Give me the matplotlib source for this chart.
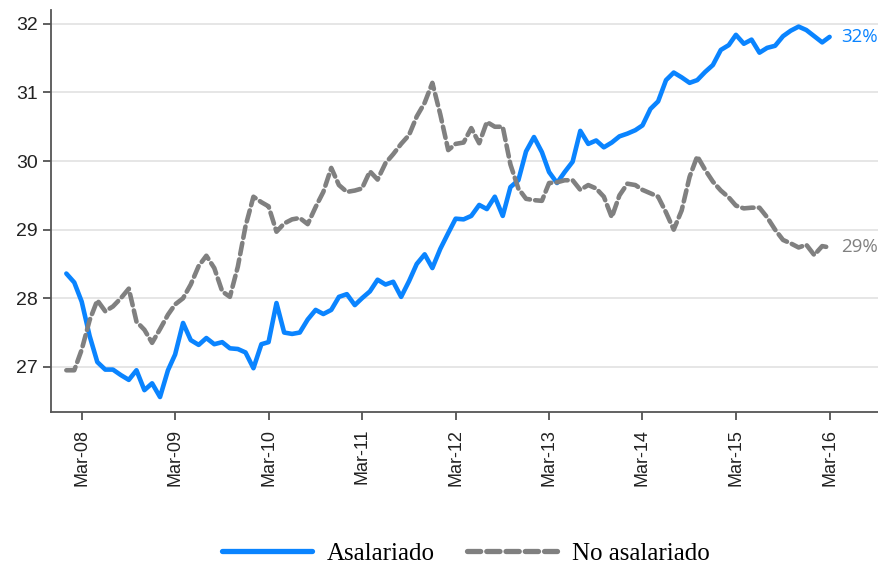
import numpy as np
import pandas as pd
import matplotlib
matplotlib.use("Agg")
import matplotlib.pyplot as plt
import matplotlib.dates as mdates

# monthly series, Jan-08 .. Mar-16
months = pd.date_range("2008-01-01", periods=99, freq="MS")

asalariado = [
    28.36, 28.23, 27.95, 27.45, 27.07, 26.96, 26.96, 26.88, 26.81, 26.95,
    26.66, 26.76, 26.56, 26.95, 27.18, 27.64, 27.39, 27.32, 27.42, 27.33,
    27.36, 27.27, 27.26, 27.21, 26.98, 27.33, 27.36, 27.93, 27.50, 27.48,
    27.50, 27.69, 27.83, 27.77, 27.83, 28.02, 28.06, 27.90, 28.00, 28.10,
    28.27, 28.20, 28.24, 28.02, 28.25, 28.50, 28.64, 28.44, 28.72, 28.95,
    29.16, 29.15, 29.20, 29.36, 29.30, 29.48, 29.20, 29.62, 29.72, 30.14,
    30.35, 30.13, 29.84, 29.68, 29.84, 29.99, 30.44, 30.25, 30.30, 30.20,
    30.27, 30.36, 30.40, 30.45, 30.52, 30.76, 30.87, 31.18, 31.29, 31.22,
    31.14, 31.18, 31.30, 31.40, 31.62, 31.69, 31.84, 31.71, 31.77, 31.58,
    31.65, 31.68, 31.82, 31.90, 31.96, 31.91, 31.82, 31.73, 31.81,
]

no_asalariado = [
    26.95, 26.95, 27.25, 27.68, 27.97, 27.81, 27.88, 28.00, 28.14, 27.66,
    27.54, 27.35, 27.55, 27.76, 27.91, 28.00, 28.20, 28.47, 28.62, 28.44,
    28.10, 28.02, 28.46, 29.05, 29.48, 29.40, 29.34, 28.97, 29.09, 29.15,
    29.17, 29.08, 29.33, 29.55, 29.90, 29.65, 29.55, 29.57, 29.60, 29.85,
    29.73, 29.97, 30.10, 30.25, 30.38, 30.65, 30.85, 31.14, 30.68, 30.16,
    30.25, 30.27, 30.48, 30.26, 30.57, 30.50, 30.50, 29.95, 29.60, 29.45,
    29.43, 29.42, 29.68, 29.69, 29.72, 29.72, 29.58, 29.65, 29.60, 29.48,
    29.18, 29.50, 29.67, 29.65, 29.58, 29.53, 29.48, 29.25, 29.00, 29.28,
    29.77, 30.07, 29.87, 29.70, 29.57, 29.47, 29.35, 29.31, 29.32, 29.32,
    29.18, 29.00, 28.85, 28.80, 28.74, 28.78, 28.63, 28.76, 28.74,
]

end_labels = ["32%", "29%"]
yticks = [27, 28, 29, 30, 31, 32]

BLUE = "#0a84ff"
GREY = "#808080"

fig = plt.figure(figsize=(8.79, 5.63), dpi=100)
ax = fig.add_axes([0.058, 0.268, 0.942, 0.714])

ax.plot(months, asalariado, color=BLUE, lw=3.3, label="Asalariado",
        solid_joinstyle="round", solid_capstyle="round")
ax.plot(months, no_asalariado, color=GREY, lw=3.3, label="No asalariado",
        dashes=(2.5, 1.15), dash_capstyle="round")

# end labels
ax.annotate(end_labels[0], (months[-1], asalariado[-1]), xytext=(8, 0),
            textcoords="offset points", va="center", ha="left",
            color=BLUE, fontsize=13.5, family="Open Sans")
ax.annotate(end_labels[1], (months[-1], no_asalariado[-1]), xytext=(8, 0),
            textcoords="offset points", va="center", ha="left",
            color=GREY, fontsize=13.5, family="Open Sans")

ax.set_xlim(pd.Timestamp("2007-11-02"), pd.Timestamp("2016-09-10"))
ax.set_ylim(26.34, 32.2)

ax.set_yticks(yticks)
ax.yaxis.grid(True, color="#e4e4e4", lw=1.3)
ax.set_axisbelow(True)

mar_ticks = [d for d in months if d.month == 3]
ax.set_xticks(mar_ticks)
ax.xaxis.set_major_formatter(mdates.DateFormatter("%b-%y"))
plt.setp(ax.get_xticklabels(), rotation=90, family="Liberation Sans",
         fontsize=13, color="#222222")
plt.setp(ax.get_yticklabels(), family="Liberation Sans", fontsize=14,
         color="#222222")

ax.tick_params(axis="both", direction="out", length=6, width=1.2,
               color="#444444")
ax.tick_params(axis="x", pad=6)

for s in ["top", "right"]:
    ax.spines[s].set_visible(False)
for s in ["left", "bottom"]:
    ax.spines[s].set_color("#555555")
    ax.spines[s].set_linewidth(1.3)

leg = fig.legend(loc="lower center", bbox_to_anchor=(0.53, -0.043), ncol=2,
                 frameon=False, handlelength=3.6, columnspacing=1.3,
                 handletextpad=0.6,
                 prop={"family": "Liberation Serif", "size": 18})
for line in leg.get_lines():
    line.set_linewidth(3.8)

fig.savefig("out.png", dpi=100)
